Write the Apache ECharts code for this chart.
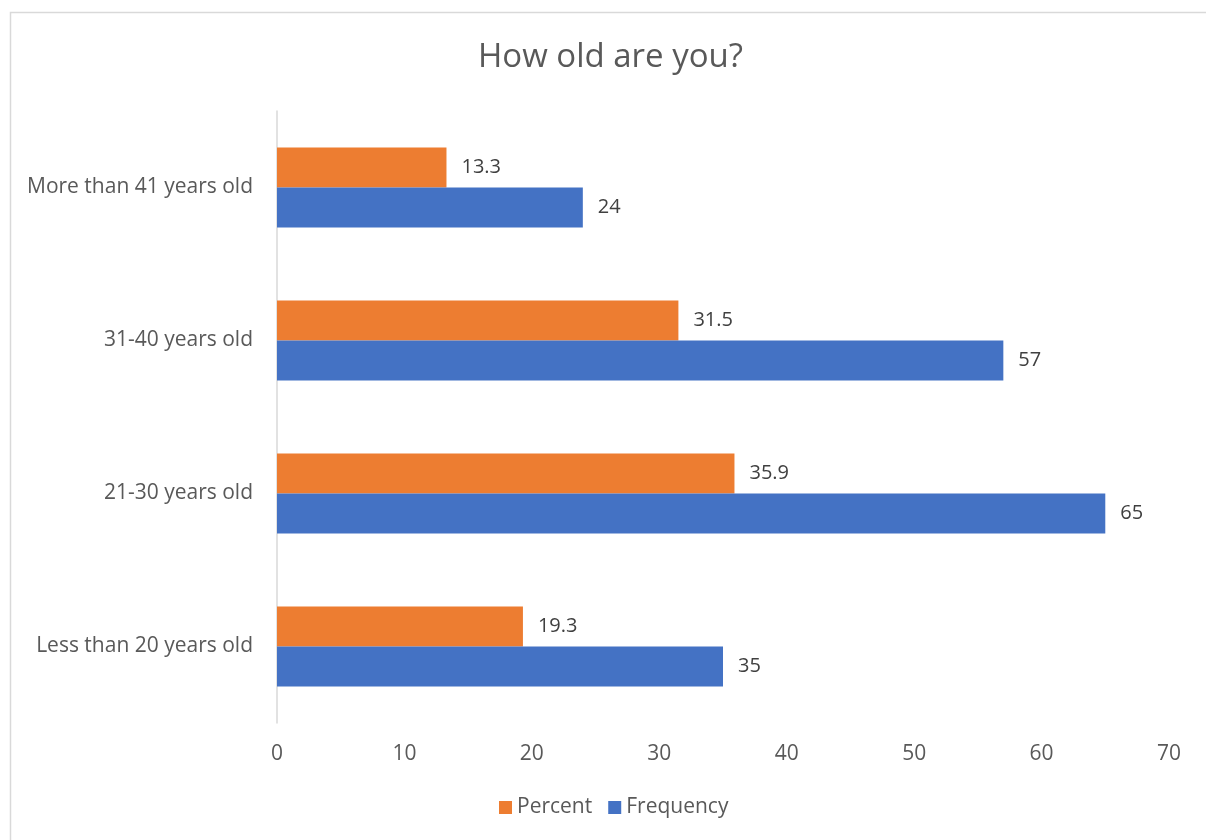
<!DOCTYPE html>
<html>
<head>
<meta charset="utf-8">
<script src="https://cdn.jsdelivr.net/npm/echarts@6/dist/echarts.min.js"></script>
<style>
  html, body { margin: 0; padding: 0; background: #fff; }
  #chart { width: 1206px; height: 840px; }
</style>
</head>
<body>
<div id="chart"></div>
<script>
const categories = ['Less than 20 years old', '21-30 years old', '31-40 years old', 'More than 41 years old']
const frequency = [35, 65, 57, 24]
const percent = [19.3, 35.9, 31.5, 13.3]
const xTicks = [0, 70, 10]  // min, max, step

const textColor = '#595959'
const font = '"Open Sans", "Noto Sans", sans-serif'

const chart = echarts.init(document.getElementById('chart'))

const barLabel = {
  show: true, position: 'right', distance: 15,
  color: '#404040', fontSize: 20, fontFamily: font
}

chart.setOption({
  backgroundColor: '#fff',
  animation: false,
  graphic: [{
    type: 'rect',
    shape: { x: 10.5, y: 12.5, width: 1220, height: 860 },
    style: { fill: 'none', stroke: '#d9d9d9', lineWidth: 1.5 },
    silent: true
  }],
  title: {
    text: 'How old are you?',
    left: 473, top: 36,
    textStyle: { color: textColor, fontSize: 33, fontWeight: 'normal', fontFamily: font }
  },
  legend: {
    bottom: 17, left: 494,
    data: ['Percent', 'Frequency'],
    icon: 'rect', itemWidth: 13, itemHeight: 13, itemGap: 16,
    textStyle: { color: textColor, fontSize: 21, fontFamily: font }
  },
  grid: { left: 277, right: 37, top: 111, bottom: 117 },
  xAxis: {
    type: 'value',
    min: xTicks[0], max: xTicks[1], interval: xTicks[2],
    axisLine: { show: false },
    axisTick: { show: false },
    splitLine: { show: false },
    axisLabel: { color: textColor, fontSize: 21, fontFamily: font, margin: 21 }
  },
  yAxis: {
    type: 'category',
    data: categories,
    axisLine: { lineStyle: { color: '#d9d9d9', width: 1.5 } },
    axisTick: { show: false },
    axisLabel: { color: textColor, fontSize: 21, fontFamily: font, margin: 24 }
  },
  series: [
    {
      name: 'Percent', type: 'bar', data: percent,
      barWidth: 40, barGap: '0%',
      itemStyle: { color: '#ed7d31' },
      label: barLabel
    },
    {
      name: 'Frequency', type: 'bar', data: frequency,
      barWidth: 40, barGap: '0%',
      itemStyle: { color: '#4472c4' },
      label: barLabel
    }
  ]
})
</script>
</body>
</html>
